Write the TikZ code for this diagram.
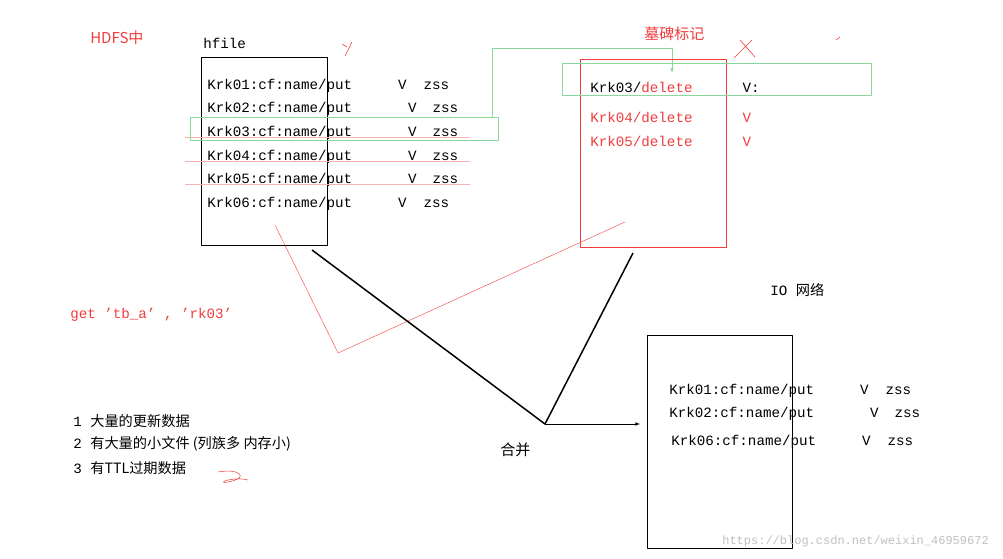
\documentclass[tikz,border=0pt]{standalone}
\usepackage{fontspec}
\setmainfont{Liberation Mono}
\newfontfamily\cjk{Noto Sans CJK SC}
\definecolor{markred}{RGB}{240,60,60}
\definecolor{markgreen}{RGB}{60,190,90}
\tikzset{
  row/.style={anchor=west,inner sep=0pt,font=\fontsize{14.2}{16}\selectfont},
  redrow/.style={row,text=markred},
  cjkrow/.style={row,font=\cjk\fontsize{15}{17}\selectfont},
  box/.style={draw,line width=0.8pt},
}
\newcommand\gapsp[1]{\hspace*{#1pt}}
\begin{document}
\begin{tikzpicture}[x=1pt,y=-1pt,line join=round,line width=0.6pt,>=latex]
\useasboundingbox (0,0) rectangle (1003,559);
% left hfile
\node[cjkrow,text=markred] (hdfs) at (90,38) {HDFS中};
\node[row] (hf) at (203,43) {hfile};
\draw[box] (201,57) rectangle (327,245);
\node[row] (a1) at (207,86) {Krk01:cf:name/put\gapsp{46}V\gapsp{17}zss};
\node[row] (a2) at (207,109) {Krk02:cf:name/put\gapsp{56}V\gapsp{16}zss};
\node[row] (a3) at (207,133) {Krk03:cf:name/put\gapsp{56}V\gapsp{16}zss};
\node[row] (a4) at (207,157) {Krk04:cf:name/put\gapsp{56}V\gapsp{16}zss};
\node[row] (a5) at (207,180) {Krk05:cf:name/put\gapsp{56}V\gapsp{16}zss};
\node[row] (a6) at (207,204) {Krk06:cf:name/put\gapsp{46}V\gapsp{17}zss};
\foreach \y in {137,161,184} \draw[markred!40,line width=0.5pt] (185,\y)--(470,\y);
\draw[markgreen!60,line width=0.6pt] (190,117) rectangle (498,140);
\draw[markgreen!60] (492,118)--(492,48)--(672,48);
\draw[->,markgreen!60] (672,48)--(672,73);
% tombstone
\node[cjkrow,text=markred] (tomb) at (644,34) {墓碑标记};
\draw[markred,line width=0.8pt] (580,59) rectangle (726,247);
\draw[markgreen!60] (562,63) rectangle (871,95);
\node[row] (b3) at (590,87) {Krk03/\textcolor{markred}{delete}\gapsp{50}V:};
\node[redrow] (b4) at (590,117) {Krk04/delete\gapsp{50}V};
\node[redrow] (b5) at (590,141) {Krk05/delete\gapsp{50}V};
\draw[markred] (345,56)--(352,42) (347,47)--(342,44);
\draw[markred] (734,58)--(752,40) (740,40)--(755,57);
\draw[markred] (836,40)--(840,37);
\draw[markred,line width=0.4pt] (275,225)--(338,353)--(625,222);
% merge
\coordinate (m) at (545,424);
\draw[line width=1.5pt] (312,250)--(m)--(633,253);
\draw[->] (m)--(640,424);
\node[cjkrow] (merge) at (500,450) {合并};
\node[row] (io) at (770,290) {IO {\cjk 网络}};
\draw[box] (647,335) rectangle (792,548);
\node[row] (c1) at (669,391) {Krk01:cf:name/put\gapsp{46}V\gapsp{17}zss};
\node[row] (c2) at (669,414) {Krk02:cf:name/put\gapsp{56}V\gapsp{16}zss};
\node[row] (c6) at (671,442) {Krk06:cf:name/put\gapsp{46}V\gapsp{17}zss};
% notes
\node[redrow] (get) at (70,315) {get 'tb\_a' , 'rk03'};
\node[row] (n1) at (73,421) {1 {\cjk 大量的更新数据}};
\node[row] (n2) at (73,444) {2 {\cjk 有大量的小文件 (列族多 内存小)}};
\node[row] (n3) at (73,468) {3 {\cjk 有TTL过期数据}};
\draw[markred,line width=0.5pt] (218,472) .. controls (240,468) and (250,478) .. (228,482) .. controls (215,484) and (232,476) .. (248,480);
\node[row,text=gray!50,font=\fontsize{12}{13}\selectfont] (url) at (722,541) {https://blog.csdn.net/weixin\_46959672};
\end{tikzpicture}
\end{document}
